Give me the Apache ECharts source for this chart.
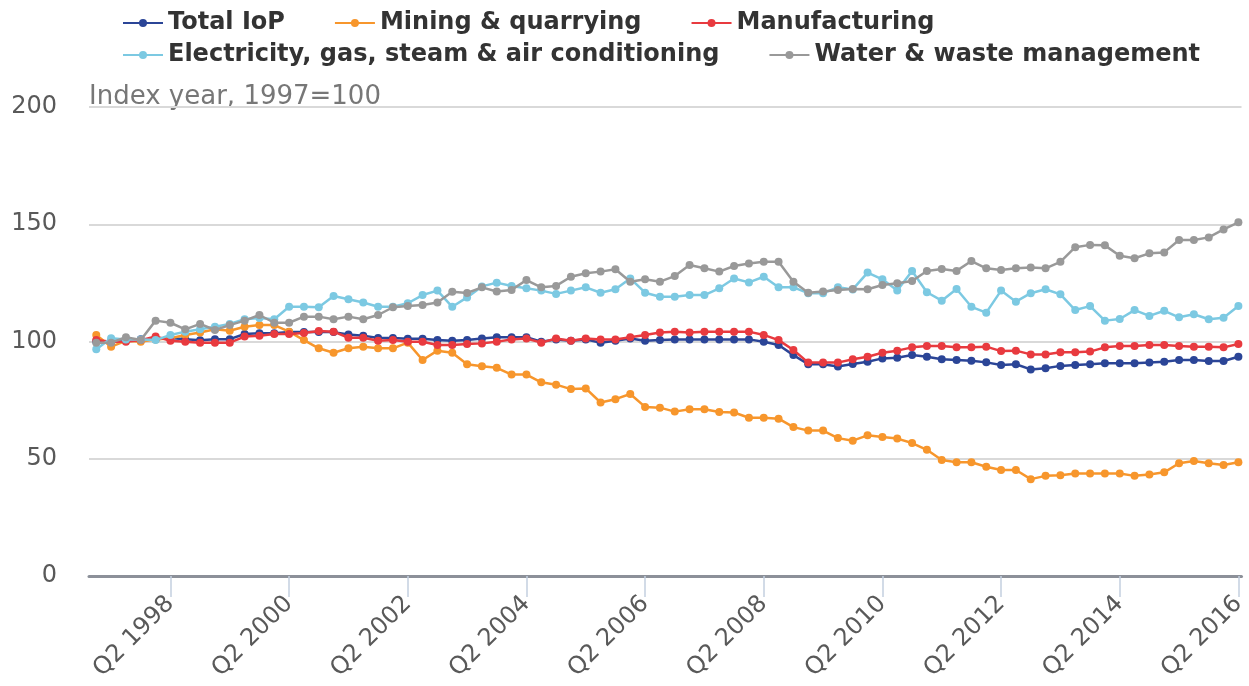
<!DOCTYPE html>
<html>
<head>
<meta charset="utf-8">
<script src="https://cdn.jsdelivr.net/npm/echarts@6/dist/echarts.min.js"></script>
<style>
html,body{margin:0;padding:0;background:#fff;}
#chart{width:1249px;height:686px;}
</style>
</head>
<body>
<div id="chart"></div>
<script>
// Quarters from Q1 1997 to Q2 2016 (index 0..77)
const startYear = 1997;
const seriesNames = ['Total IoP', 'Mining & quarrying', 'Manufacturing', 'Electricity, gas, steam & air conditioning', 'Water & waste management'];
const tickIndices = [5, 13, 21, 29, 37, 45, 53, 61, 69, 77];
const yTicks = [0, 50, 100, 150, 200];
const axisTitle = 'Index year, 1997=100';

const totalIoP = [
  100, 100, 100.5, 101, 101, 101.5, 101, 100.5, 101, 101, 103.2, 103.5, 103.5, 104, 104, 104, 104, 103, 102.5, 101.5, 101.5, 101.2, 101.2, 100.6, 100.3,
  100.6, 101.3, 101.8, 101.8, 101.8, 99.9, 100.9, 100.3, 100.9, 99.5, 100.3, 101.3, 100.3, 100.6, 100.9, 100.9, 100.9, 100.9, 100.9, 100.9, 99.9, 98.5, 94.2, 90.3, 90.3, 89.3, 90.4,
  91.4, 92.8, 93.1, 94.2, 93.5, 92.4, 92.1, 91.8, 91.1, 90.0, 90.3, 88.1, 88.6, 89.6, 90.0, 90.3, 90.7, 90.7, 90.7, 91.0, 91.4, 92.1, 92.1, 91.7, 91.7, 93.5
];
const mining = [
  102.8, 97.8, 100.3, 99.9, 100.9, 101.4, 102.8, 103.8, 105.2, 104.6, 106.3, 107.0, 107.0, 104.2, 100.6, 97.1, 95.2, 97.1, 97.8, 97.1, 97.1, 99.5, 92.1, 96.1, 95.2,
  90.3, 89.4, 88.8, 85.9, 85.9, 82.6, 81.6, 79.7, 80.0, 74.0, 75.4, 77.6, 72.1, 71.8, 70.1, 71.1, 71.1, 69.9, 69.7, 67.5, 67.5, 67.1, 63.5, 62.0, 62.0, 58.8, 57.7,
  60.0, 59.3, 58.6, 56.7, 53.8, 49.5, 48.5, 48.5, 46.6, 45.2, 45.2, 41.3, 42.7, 43.0, 43.7, 43.7, 43.7, 43.7, 42.7, 43.3, 44.2, 48.1, 49.0, 48.1, 47.3, 48.5
];
const manufacturing = [
  100.6, 99.9, 99.9, 100.6, 102.1, 100.3, 99.9, 99.5, 99.5, 99.5, 102.1, 102.5, 103.2, 103.2, 103.6, 104.5, 104.2, 101.6, 101.6, 100.3, 100.6, 99.9, 99.9, 98.5, 98.5,
  98.9, 99.2, 99.9, 100.9, 101.3, 99.5, 101.3, 100.3, 101.3, 100.9, 100.9, 101.8, 102.8, 103.8, 104.2, 103.8, 104.2, 104.2, 104.2, 104.2, 102.8, 100.6, 96.4, 91.0, 91.0, 91.0, 92.4,
  93.5, 95.2, 96.1, 97.5, 98.1, 98.1, 97.5, 97.5, 97.8, 95.9, 96.1, 94.5, 94.5, 95.4, 95.4, 95.7, 97.5, 98.1, 98.1, 98.5, 98.5, 98.1, 97.8, 97.8, 97.5, 98.9
];
const electricity = [
  96.7, 101.4, 100.9, 100.9, 100.6, 102.8, 104.2, 105.2, 106.3, 107.5, 109.5, 110.0, 109.5, 114.8, 114.8, 114.6, 119.4, 118.0, 116.6, 114.8, 114.8, 116.3, 119.8, 121.7, 114.8,
  118.8, 123.5, 125.1, 123.7, 122.7, 121.7, 120.3, 121.7, 123.1, 120.8, 122.3, 126.9, 120.8, 119.1, 119.1, 119.8, 119.8, 122.7, 126.9, 125.2, 127.6, 123.1, 123.1, 120.6, 120.6, 123.1, 122.2,
  129.4, 126.5, 121.7, 130.1, 121.0, 117.4, 122.4, 114.8, 112.3, 121.7, 117.0, 120.6, 122.3, 120.1, 113.4, 115.1, 108.9, 109.6, 113.4, 110.9, 113.1, 110.3, 111.6, 109.5, 110.1, 115.1
];
const water = [
  99.5, 99.5, 101.8, 100.6, 108.9, 108.0, 105.2, 107.5, 104.9, 107.0, 108.9, 111.3, 108.0, 108.0, 110.6, 110.6, 109.5, 110.6, 109.5, 111.3, 114.6, 115.1, 115.6, 116.6, 121.2,
  120.7, 123.1, 121.3, 122.0, 126.2, 123.1, 123.7, 127.6, 129.1, 129.8, 130.8, 125.5, 126.5, 125.5, 127.9, 132.6, 131.2, 129.8, 132.2, 133.3, 134.0, 134.0, 125.5, 120.8, 121.3, 122.0, 122.4,
  122.3, 124.1, 124.8, 125.8, 130.1, 130.9, 130.1, 134.3, 131.2, 130.5, 131.2, 131.6, 131.2, 134.0, 140.2, 141.2, 141.0, 136.6, 135.5, 137.6, 138.0, 143.3, 143.3, 144.4, 147.8, 150.8
];
const colors = ['#2b4597', '#f7962c', '#e83a3f', '#7cc9e2', '#999999'];

const allData = [totalIoP, mining, manufacturing, electricity, water];
function quarterLabel(i) {
  const y = startYear + Math.floor(i / 4);
  const q = (i % 4) + 1;
  return 'Q' + q + ' ' + y;
}

const chart = echarts.init(document.getElementById('chart'), null, {renderer: 'canvas'});
const FONT = 'DejaVu Sans';
const legendText = {fontFamily: FONT, fontSize: 24, fontWeight: 'bold', color: '#333333'};

chart.setOption({
  animation: false,
  backgroundColor: '#ffffff',
  color: colors,
  textStyle: {fontFamily: FONT},
  legend: [
    {data: seriesNames.slice(0, 3), left: 122, top: 11, itemGap: 49, itemWidth: 40, itemHeight: 10, textStyle: legendText, padding: 0},
    {data: seriesNames.slice(3), left: 122, top: 43, itemGap: 49, itemWidth: 40, itemHeight: 10, textStyle: legendText, padding: 0}
  ],
  graphic: [{
    type: 'text', left: 89, top: 84,
    style: {text: axisTitle, fontFamily: FONT, fontSize: 26, fill: '#777777'}
  }],
  grid: {left: 89, right: 0, top: 107, bottom: 110, containLabel: false},
  xAxis: {
    type: 'value', min: -0.49, max: 77.21,
    splitLine: {show: false},
    axisLine: {show: true, lineStyle: {color: '#8c9099', width: 3}},
    axisTick: {show: true, customValues: tickIndices, length: 21, lineStyle: {color: '#c3d0df', width: 1.5}},
    axisLabel: {
      customValues: tickIndices, rotate: 45, margin: 24,
      fontFamily: FONT, fontSize: 24, color: '#595959',
      formatter: v => quarterLabel(Math.round(v))
    }
  },
  yAxis: {
    type: 'value', min: 0, max: 200, interval: 50,
    axisLine: {show: false}, axisTick: {show: false},
    splitLine: {lineStyle: {color: '#d9d9d9', width: 2}},
    axisLabel: {margin: 8, padding: [0, 24, 0, 0], align: 'right', fontFamily: FONT, fontSize: 24, color: '#595959'}
  },
  series: seriesNames.map((name, k) => ({
    name: name, type: 'line',
    data: allData[k].map((v, i) => [i, v]),
    symbol: 'circle', symbolSize: 8,
    lineStyle: {width: 2.5, color: colors[k]},
    itemStyle: {color: colors[k]},
    z: 2 + k
  }))
});
</script>
</body>
</html>
